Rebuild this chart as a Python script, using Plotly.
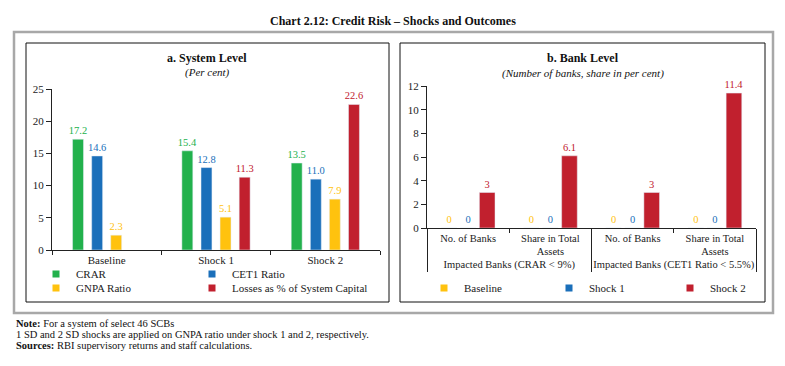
import plotly.graph_objects as go

W, H = 785, 366

# ---------------- data ----------------
cats_a = ["Baseline", "Shock 1", "Shock 2"]
crar = [17.2, 15.4, 13.5]
cet1 = [14.6, 12.8, 11.0]
gnpa = [2.3, 5.1, 7.9]
losses = [None, 11.3, 22.6]
names_a = ["CRAR", "CET1 Ratio", "GNPA Ratio", "Losses as % of System Capital"]
yticks_a = [0, 5, 10, 15, 20, 25]

groups_b = ["Impacted Banks (CRAR &lt; 9%)", "Impacted Banks (CRAR &lt; 9%)",
            "Impacted Banks (CET1 Ratio &lt; 5.5%)", "Impacted Banks (CET1 Ratio &lt; 5.5%)"]
inner_b = ["No. of Banks", "Share in Total<br>Assets", "No. of Banks", "Share in Total<br>Assets"]
baseline_b = [0, 0, 0, 0]
shock1_b = [0, 0, 0, 0]
shock2_b = [3, 6.1, 3, 11.4]
names_b = ["Baseline", "Shock 1", "Shock 2"]
yticks_b = [0, 2, 4, 6, 8, 10, 12]

# ---------------- style ----------------
GREEN = "#22B14C"
BLUE = "#1A6FBA"
YELLOW = "#FFC20E"
RED = "#C1202E"
FONT = "Liberation Serif"
AX = "#222222"

def px(x):
    return x / W

def py(y):
    return 1 - y / H

fig = go.Figure()

# legend placement (reference symbol-centre pixel positions) for each entry
leg_pos_a = [(62, 274), (218, 274), (62, 288), (218, 288)]
leg_pos_b = [(450, 288), (575, 288), (696, 288)]

legend_common = dict(orientation="h", xanchor="left", yanchor="middle",
                     bgcolor="rgba(0,0,0,0)", font=dict(size=11, family=FONT, color="#222"),
                     itemwidth=30)
legend_layout = {}
legend_index = [1]

def new_legend(pos):
    i = legend_index[0]
    legend_index[0] += 1
    key = "legend" if i == 1 else "legend%d" % i
    legend_layout[key] = dict(x=px(pos[0] - 26), y=py(pos[1]), **legend_common)
    return key

# Panel a bars
colors_a = [GREEN, BLUE, YELLOW, RED]
series_a = [crar, cet1, gnpa, losses]
centers_a = [-0.262, -0.087, 0.087, 0.262]
bw_a = 0.1
for name, vals, col, c, pos in zip(names_a, series_a, colors_a, centers_a, leg_pos_a):
    fig.add_trace(go.Bar(
        x=cats_a, y=vals, name=name, marker_color=col, width=bw_a, offset=c - bw_a / 2,
        text=[("%.1f" % v) if v is not None else "" for v in vals],
        textposition="outside", constraintext="none",
        textfont=dict(color=col, size=10.5, family=FONT),
        cliponaxis=False, xaxis="x", yaxis="y", showlegend=False, legendgroup=name,
    ))
    fig.add_trace(go.Scatter(
        x=[None], y=[None], mode="markers", name=name, legend=new_legend(pos),
        legendgroup=name, marker=dict(symbol="square", size=7, color=col),
        xaxis="x", yaxis="y",
    ))

# Panel b bars
colors_b = [YELLOW, BLUE, RED]
series_b = [baseline_b, shock1_b, shock2_b]
centers_b = [-0.232, 0.0, 0.232]
bw_b = 0.19
for name, vals, col, c, pos in zip(names_b, series_b, colors_b, centers_b, leg_pos_b):
    fig.add_trace(go.Bar(
        x=[groups_b, inner_b], y=vals, name=name, marker_color=col, width=bw_b,
        offset=c - bw_b / 2,
        text=[("%g" % v) for v in vals],
        textposition="outside", constraintext="none",
        textfont=dict(color=col, size=10.5, family=FONT),
        cliponaxis=False, xaxis="x2", yaxis="y2", showlegend=False, legendgroup=name,
    ))
    fig.add_trace(go.Scatter(
        x=[None], y=[None], mode="markers", name=name, legend=new_legend(pos),
        legendgroup=name, marker=dict(symbol="square", size=7, color=col),
        xaxis="x2", yaxis="y2",
    ))

axis_common = dict(showline=True, linecolor=AX, linewidth=1, ticks="outside",
                   tickcolor=AX, showgrid=False, zeroline=False, automargin=False)
yfont = dict(size=11, family=FONT, color="#222")

fig.update_layout(
    width=W, height=H, autosize=False,
    margin=dict(l=0, r=0, t=0, b=0),
    paper_bgcolor="white", plot_bgcolor="white",
    barmode="overlay",
    font=dict(family=FONT, size=10, color="#222"),
    xaxis=dict(domain=[px(52), px(380)], anchor="y", tickson="boundaries", tickangle=0,
               ticklen=4, tickfont=dict(size=11, family=FONT, color="#222"), **axis_common),
    yaxis=dict(domain=[py(250), py(89)], anchor="x", range=[0, 25], tickvals=yticks_a,
               ticklen=5, tickfont=yfont, **axis_common),
    xaxis2=dict(domain=[px(427), px(756)], anchor="y2", type="multicategory",
                tickson="boundaries", showdividers=True, dividercolor=AX, dividerwidth=1,
                tickangle=0, ticklen=4, tickfont=dict(size=10.5, family=FONT, color="#222"),
                **axis_common),
    yaxis2=dict(domain=[py(228), py(86)], anchor="x2", range=[0, 12], tickvals=yticks_b,
                ticklen=5, tickfont=yfont, **axis_common),
    showlegend=True,
    **legend_layout,
)

shapes = [
    dict(type="rect", xref="paper", yref="paper", x0=px(14), x1=px(773), y0=py(313), y1=py(32),
         line=dict(color="#A8A8A8", width=2.5), layer="below"),
    dict(type="rect", xref="paper", yref="paper", x0=px(26), x1=px(389), y0=py(302), y1=py(43),
         line=dict(color="#111111", width=1), layer="below"),
    dict(type="rect", xref="paper", yref="paper", x0=px(400), x1=px(765), y0=py(302), y1=py(43),
         line=dict(color="#111111", width=1), layer="below"),
]
fig.update_layout(shapes=shapes)

def ann(text, x, y, size=10, xanchor="center", color="#111"):
    return dict(text=text, x=px(x), y=py(y), xref="paper", yref="paper", showarrow=False,
                xanchor=xanchor, yanchor="middle", font=dict(size=size, family=FONT, color=color))

annotations = [
    ann("<b>Chart 2.12: Credit Risk – Shocks and Outcomes</b>", 393, 21, size=12),
    ann("<b>a. System Level</b>", 207, 58, size=12),
    ann("<i>(Per cent)</i>", 207, 72, size=11),
    ann("<b>b. Bank Level</b>", 583, 58, size=12),
    ann("<i>(Number of banks, share in per cent)</i>", 583, 73, size=11),
    ann("<b>Note:</b> For a system of select 46 SCBs", 14, 323, size=10.5, xanchor="left"),
    ann("1 SD and 2 SD shocks are applied on GNPA ratio under shock 1 and 2, respectively.",
        14, 334, size=10.5, xanchor="left"),
    ann("<b>Sources:</b> RBI supervisory returns and staff calculations.", 14, 345, size=10.5,
        xanchor="left"),
]
fig.update_layout(annotations=annotations)

fig.write_html("out.html", config={"displayModeBar": False},
               post_script="document.body.style.margin='0px';")
